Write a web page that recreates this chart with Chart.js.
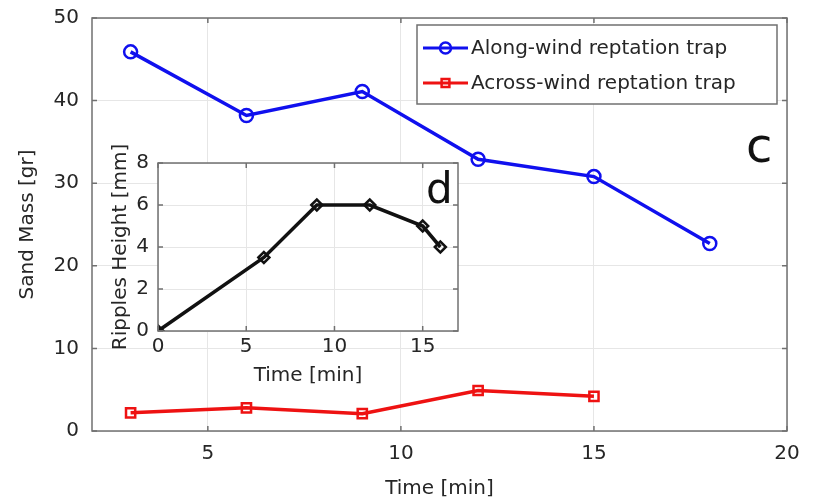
<!DOCTYPE html>
<html>
<head>
<meta charset="utf-8">
<script src="https://cdn.jsdelivr.net/npm/chart.js@4/dist/chart.umd.min.js"></script>
<style>
  body { margin: 0; background: #fff; }
  #wrap { position: relative; width: 815px; height: 504px; }
  #main { position: absolute; left: 0; top: 0; }
  #inset { position: absolute; left: 100px; top: 140px; }
</style>
</head>
<body>
<div id="wrap">
  <canvas id="main" width="815" height="504"></canvas>
  <canvas id="inset" width="370" height="250"></canvas>
</div>
<script>
// Sandmasse der beiden Fallen (Hauptdiagramm)
var timeAlong = [3, 6, 9, 12, 15, 18];
var massAlong = [45.9, 38.2, 41.1, 32.9, 30.8, 22.7];
var timeAcross = [3, 6, 9, 12, 15];
var massAcross = [2.2, 2.8, 2.1, 4.9, 4.2];
var mainXTicks = [5, 10, 15, 20];
var mainYTicks = [0, 10, 20, 30, 40, 50];

// Rippelhöhe (Einschub)
var timeRipple = [0, 6, 9, 12, 15, 16];
var rippleHeight = [0, 3.5, 6, 6, 5, 4];
var insetXTicks = [0, 5, 10, 15];
var insetYTicks = [0, 2, 4, 6, 8];

var FONT = 'DejaVu Sans';
var TXT = '#262626';
var GRID = '#e6e6e6';
var BOX = '#707070';
var FS = 20;

function pairs(xs, ys) {
  return xs.map(function(x, i) { return { x: x, y: ys[i] }; });
}

function fixTicks(values) {
  return function(scale) {
    scale.ticks = values.map(function(v) { return { value: v }; });
  };
}

// Rahmen um die Zeichenfläche + Tickmarken nach innen (alle vier Seiten)
var boxPlugin = {
  id: 'box',
  beforeDraw: function(chart) {
    var a = chart.chartArea, ctx = chart.ctx;
    ctx.save();
    ctx.fillStyle = '#fff';
    ctx.fillRect(a.left, a.top, a.right - a.left, a.bottom - a.top);
    ctx.restore();
  },
  afterDatasetsDraw: function(chart) {
    var a = chart.chartArea, ctx = chart.ctx;
    var len = 5;
    ctx.save();
    ctx.strokeStyle = BOX;
    ctx.lineWidth = 1.5;
    ctx.strokeRect(a.left, a.top, a.right - a.left, a.bottom - a.top);
    ctx.beginPath();
    chart.scales.x.ticks.forEach(function(t) {
      var px = chart.scales.x.getPixelForValue(t.value);
      ctx.moveTo(px, a.bottom); ctx.lineTo(px, a.bottom - len);
      ctx.moveTo(px, a.top); ctx.lineTo(px, a.top + len);
    });
    chart.scales.y.ticks.forEach(function(t) {
      var py = chart.scales.y.getPixelForValue(t.value);
      ctx.moveTo(a.left, py); ctx.lineTo(a.left + len, py);
      ctx.moveTo(a.right, py); ctx.lineTo(a.right - len, py);
    });
    ctx.stroke();
    ctx.restore();
  }
};

// Legende innerhalb der Zeichenfläche oben rechts
var legendPlugin = {
  id: 'innerLegend',
  afterDatasetsDraw: function(chart) {
    var ctx = chart.ctx;
    var x0 = 417, y0 = 25, w = 360, h = 79;
    ctx.save();
    ctx.fillStyle = '#fff';
    ctx.fillRect(x0, y0, w, h);
    ctx.strokeStyle = BOX;
    ctx.lineWidth = 1.5;
    ctx.strokeRect(x0, y0, w, h);
    chart.data.datasets.forEach(function(ds, i) {
      var y = 48 + i * 35;
      ctx.strokeStyle = ds.borderColor;
      ctx.lineWidth = 3;
      ctx.beginPath();
      ctx.moveTo(423, y); ctx.lineTo(468, y);
      ctx.stroke();
      ctx.fillStyle = 'rgba(0,0,0,0)';
      ctx.lineWidth = 2.5;
      Chart.helpers.drawPoint(ctx, {
        pointStyle: ds.pointStyle, radius: 5.5, rotation: 0,
        borderWidth: ds.pointBorderWidth
      }, 445.5, y);
      ctx.fillStyle = TXT;
      ctx.font = FS + 'px "' + FONT + '"';
      ctx.textBaseline = 'middle';
      ctx.fillText(ds.label, 471, y + 1);
    });
    // Kennbuchstabe des Panels
    ctx.fillStyle = '#111';
    ctx.font = '48px "' + FONT + '"';
    ctx.textBaseline = 'alphabetic';
    ctx.fillText('c', 746, 162);
    ctx.restore();
  }
};

var insetLabel = {
  id: 'insetLabel',
  afterDatasetsDraw: function(chart) {
    var ctx = chart.ctx;
    ctx.save();
    ctx.fillStyle = '#111';
    ctx.font = '42px "' + FONT + '"';
    ctx.fillText('d', 326, 63);
    ctx.restore();
  }
};

Chart.defaults.font.family = FONT;
Chart.defaults.color = TXT;

var mainChart = new Chart(document.getElementById('main').getContext('2d'), {
  type: 'line',
  data: {
    datasets: [{
      label: 'Along-wind reptation trap',
      data: pairs(timeAlong, massAlong),
      borderColor: '#1010ee',
      backgroundColor: 'transparent',
      borderWidth: 3.5,
      pointStyle: 'circle',
      pointRadius: 6.5,
      pointBorderWidth: 2.5,
      pointBackgroundColor: 'transparent'
    }, {
      label: 'Across-wind reptation trap',
      data: pairs(timeAcross, massAcross),
      borderColor: '#ee1212',
      backgroundColor: 'transparent',
      borderWidth: 3.5,
      pointStyle: 'rect',
      pointRadius: 6.5,
      pointBorderWidth: 2.5,
      pointBackgroundColor: 'transparent'
    }]
  },
  options: {
    responsive: false,
    animation: false,
    devicePixelRatio: 1,
    layout: { padding: { left: 0, right: 28, top: 18, bottom: 0 } },
    plugins: { legend: { display: false }, tooltip: { enabled: false } },
    scales: {
      x: {
        type: 'linear', min: 2, max: 20,
        afterBuildTicks: fixTicks(mainXTicks),
        afterFit: function(s) { s.height = 73; },
        grid: { color: GRID, drawTicks: false },
        border: { display: false },
        ticks: { font: { size: FS }, padding: 11, color: TXT },
        title: { display: true, text: 'Time [min]', font: { size: FS }, padding: { top: 2, bottom: 3 } }
      },
      y: {
        min: 0, max: 50,
        afterBuildTicks: fixTicks(mainYTicks),
        afterFit: function(s) { s.width = 92; s.paddingTop = 0; s.paddingBottom = 0; },
        grid: { color: GRID, drawTicks: false },
        border: { display: false },
        ticks: { font: { size: FS }, padding: 13, color: TXT },
        title: { display: true, text: 'Sand Mass [gr]', font: { size: FS }, padding: { top: 16, bottom: 2 } }
      }
    }
  },
  plugins: [boxPlugin, legendPlugin]
});

var insetChart = new Chart(document.getElementById('inset').getContext('2d'), {
  type: 'line',
  data: {
    datasets: [{
      label: 'Ripples Height',
      data: pairs(timeRipple, rippleHeight),
      borderColor: '#111',
      backgroundColor: 'transparent',
      borderWidth: 3.5,
      pointStyle: 'rectRot',
      pointRadius: 5.5,
      pointBorderWidth: 2.5,
      pointBackgroundColor: 'transparent'
    }]
  },
  options: {
    responsive: false,
    animation: false,
    devicePixelRatio: 1,
    layout: { padding: { left: 0, right: 12, top: 23, bottom: 0 } },
    plugins: { legend: { display: false }, tooltip: { enabled: false } },
    scales: {
      x: {
        type: 'linear', min: 0, max: 17,
        afterBuildTicks: fixTicks(insetXTicks),
        afterFit: function(s) { s.height = 59; },
        grid: { color: GRID, drawTicks: false },
        border: { display: false },
        ticks: { font: { size: FS }, padding: 4, color: TXT },
        title: { display: true, text: 'Time [min]', font: { size: FS }, padding: { top: 1, bottom: 2 } }
      },
      y: {
        min: 0, max: 8,
        afterBuildTicks: fixTicks(insetYTicks),
        afterFit: function(s) { s.width = 58; },
        grid: { color: GRID, drawTicks: false },
        border: { display: false },
        ticks: { font: { size: FS }, padding: 9, color: TXT },
        title: { display: true, text: 'Ripples Height [mm]', font: { size: FS }, padding: { top: 9, bottom: 1 } }
      }
    }
  },
  plugins: [boxPlugin, insetLabel]
});
</script>
</body>
</html>
